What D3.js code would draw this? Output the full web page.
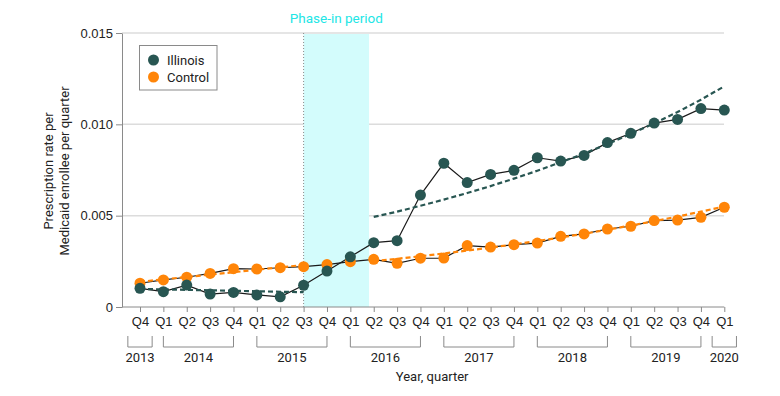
<!DOCTYPE html>
<html>
<head>
<meta charset="utf-8">
<script src="https://cdn.jsdelivr.net/npm/d3@7"></script>
<style>
  body { margin: 0; background: #fff; }
  svg { font-family: Roboto, "Noto Sans", sans-serif; }
</style>
</head>
<body>
<svg id="chart" width="780" height="396"></svg>
<script>
// quarters Q4 2013 .. Q1 2020
const quarters = ["Q4","Q1","Q2","Q3","Q4","Q1","Q2","Q3","Q4","Q1","Q2","Q3","Q4",
  "Q1","Q2","Q3","Q4","Q1","Q2","Q3","Q4","Q1","Q2","Q3","Q4","Q1"];
const years = ["2013","2014","2015","2016","2017","2018","2019","2020"];
const yearFirst = [0, 1, 5, 9, 13, 17, 21, 25];
const yearLast = [0, 4, 8, 12, 16, 20, 24, 25];

const illinois = [0.00102, 0.00084, 0.00120, 0.00071, 0.00080, 0.00066, 0.00056, 0.00119,
  0.00197, 0.00275, 0.00352, 0.00363, 0.00613, 0.00787, 0.00681, 0.00726, 0.00748,
  0.00817, 0.00799, 0.00830, 0.00900, 0.00951, 0.01007, 0.01027, 0.01086, 0.01078];
const control = [0.00130, 0.00148, 0.00163, 0.00184, 0.00210, 0.00208, 0.00215, 0.00221,
  0.00232, 0.00248, 0.00261, 0.00239, 0.00267, 0.00268, 0.00336, 0.00328, 0.00341,
  0.00350, 0.00387, 0.00400, 0.00427, 0.00442, 0.00473, 0.00476, 0.00491, 0.00546];

// fitted trend lines (pre: idx 0-7, post: idx 10-25)
const preIdx = [0, 7];
const illinoisPre = [0.00099, 0.00081];
const controlPre = [0.00138, 0.00230];
const postIdx = [10,11,12,13,14,15,16,17,18,19,20,21,22,23,24,25];
const illinoisPost = [0.00493, 0.00522, 0.00554, 0.00588, 0.00624, 0.00662, 0.00703, 0.00746,
  0.00792, 0.00840, 0.00892, 0.00947, 0.01005, 0.01067, 0.01135, 0.01208];
const controlPost = [0.00250, 0.00264, 0.00278, 0.00293, 0.00309, 0.00325, 0.00343, 0.00361,
  0.00381, 0.00401, 0.00423, 0.00446, 0.00470, 0.00495, 0.00522, 0.00550];

const phaseStart = 7, phaseEnd = 9.8;
const yTicks = [0, 0.005, 0.010, 0.015];

const colIL = "#285652", colCtl = "#ff8508";

const svg = d3.select("#chart");
const axisLeftX = 122, plotRight = 724;

const x = d3.scaleLinear().domain([0, 25]).range([140, 724.3]);
const y = d3.scaleLinear().domain([0, 0.015]).range([307, 33]);

// gridlines
svg.append("g").selectAll("line")
  .data(yTicks.slice(1))
  .enter().append("line")
  .attr("x1", axisLeftX).attr("x2", plotRight)
  .attr("y1", d => y(d)).attr("y2", d => y(d))
  .attr("stroke", "#dcdcdc").attr("stroke-width", 1.5);

// phase-in shading
svg.append("rect")
  .attr("x", x(phaseStart)).attr("y", y(0.015) + 1)
  .attr("width", x(phaseEnd) - x(phaseStart))
  .attr("height", y(0) - y(0.015) - 1)
  .attr("fill", "#d3fcfc");

svg.append("line")
  .attr("x1", x(phaseStart)).attr("x2", x(phaseStart))
  .attr("y1", y(0.015)).attr("y2", y(0))
  .attr("stroke", "#8a8a8a").attr("stroke-dasharray", "1,2");

svg.append("text")
  .attr("x", (x(phaseStart) + x(phaseEnd)) / 2).attr("y", 19)
  .attr("text-anchor", "middle").attr("dominant-baseline", "middle")
  .attr("font-size", 13.5).attr("fill", "#22e6e6")
  .text("Phase-in period");

// y axis
const yAxis = svg.append("g")
  .attr("transform", `translate(${axisLeftX},0)`)
  .call(d3.axisLeft(y).tickValues(yTicks).tickSize(6).tickSizeOuter(0).tickPadding(3)
    .tickFormat(d => d === 0 ? "0" : d3.format(".3f")(d)));
yAxis.select(".domain").attr("stroke", "#8a8a8a");
yAxis.selectAll(".tick line").attr("stroke", "#8a8a8a");
yAxis.selectAll("text").attr("font-size", 13).attr("fill", "#222");

svg.append("text")
  .attr("transform", "translate(48,171) rotate(-90)")
  .attr("text-anchor", "middle").attr("font-size", 13).attr("fill", "#222")
  .selectAll("tspan")
  .data(["Prescription rate per", "Medicaid enrollee per quarter"])
  .enter().append("tspan")
  .attr("x", 0).attr("dy", (d, i) => i === 0 ? "0.35em" : 16)
  .text(d => d);

// x axis
const xAxis = svg.append("g")
  .attr("transform", `translate(0,${y(0)})`)
  .call(d3.axisBottom(x).tickValues(d3.range(quarters.length)).tickSize(5).tickPadding(5)
    .tickFormat(i => quarters[i]));
xAxis.select(".domain").remove();
xAxis.selectAll(".tick line").attr("stroke", "#8a8a8a");
xAxis.selectAll("text").attr("font-size", 13).attr("fill", "#222");
svg.append("line")
  .attr("x1", axisLeftX).attr("x2", x(25))
  .attr("y1", y(0)).attr("y2", y(0))
  .attr("stroke", "#8a8a8a");

// year brackets
const halfStep = (x(1) - x(0)) * 0.52;
const brackets = svg.append("g").selectAll("g")
  .data(years.map((yr, i) => ({ yr, a: yearFirst[i], b: yearLast[i] })))
  .enter().append("g");
brackets.append("path")
  .attr("d", d => {
    const pad = d.a === d.b ? halfStep : 0;
    const x0 = x(d.a) - pad, x1 = x(d.b) + pad;
    return `M${x0},336V347H${x1}V336`;
  })
  .attr("fill", "none").attr("stroke", "#8a8a8a");
brackets.append("text")
  .attr("x", d => (x(d.a) + x(d.b)) / 2).attr("y", 357)
  .attr("dy", "0.35em").attr("text-anchor", "middle")
  .attr("font-size", 13).attr("fill", "#222")
  .text(d => d.yr);

svg.append("text")
  .attr("x", (x(0) + x(25)) / 2).attr("y", 376).attr("dy", "0.35em")
  .attr("text-anchor", "middle").attr("font-size", 13).attr("fill", "#222")
  .text("Year, quarter");

// trend lines
const trendLine = d3.line().x(d => x(d[0])).y(d => y(d[1]));
const trends = [
  { idx: preIdx, vals: illinoisPre, col: colIL },
  { idx: postIdx, vals: illinoisPost, col: colIL },
  { idx: preIdx, vals: controlPre, col: colCtl },
  { idx: postIdx, vals: controlPost, col: colCtl }
];

// observed lines
const obsLine = d3.line().x((d, i) => x(i)).y(d => y(d));
[control, illinois].forEach(s => {
  svg.append("path").datum(s)
    .attr("d", obsLine)
    .attr("fill", "none").attr("stroke", "#1a1a1a").attr("stroke-width", 1.2);
});

trends.forEach(t => {
  svg.append("path").datum(t.idx.map((k, i) => [k, t.vals[i]]))
    .attr("d", trendLine)
    .attr("fill", "none").attr("stroke", t.col)
    .attr("stroke-width", 2.2).attr("stroke-dasharray", "5,3");
});

// points
[[control, colCtl], [illinois, colIL]].forEach(([s, col]) => {
  svg.append("g").selectAll("circle")
    .data(s).enter().append("circle")
    .attr("cx", (d, i) => x(i)).attr("cy", d => y(d))
    .attr("r", 5.5).attr("fill", col);
});

// legend
const lg = svg.append("g");
lg.append("rect")
  .attr("x", 139.5).attr("y", 45.5).attr("width", 77.5).attr("height", 44.5)
  .attr("fill", "#fff").attr("stroke", "#8a8a8a");
[["Illinois", colIL], ["Control", colCtl]].forEach(([name, col], i) => {
  lg.append("circle").attr("cx", 153.5).attr("cy", 60 + i * 17).attr("r", 5.5).attr("fill", col);
  lg.append("text").attr("x", 167).attr("y", 60 + i * 17).attr("dy", "0.35em")
    .attr("font-size", 13).attr("fill", "#222").text(name);
});
</script>
</body>
</html>
